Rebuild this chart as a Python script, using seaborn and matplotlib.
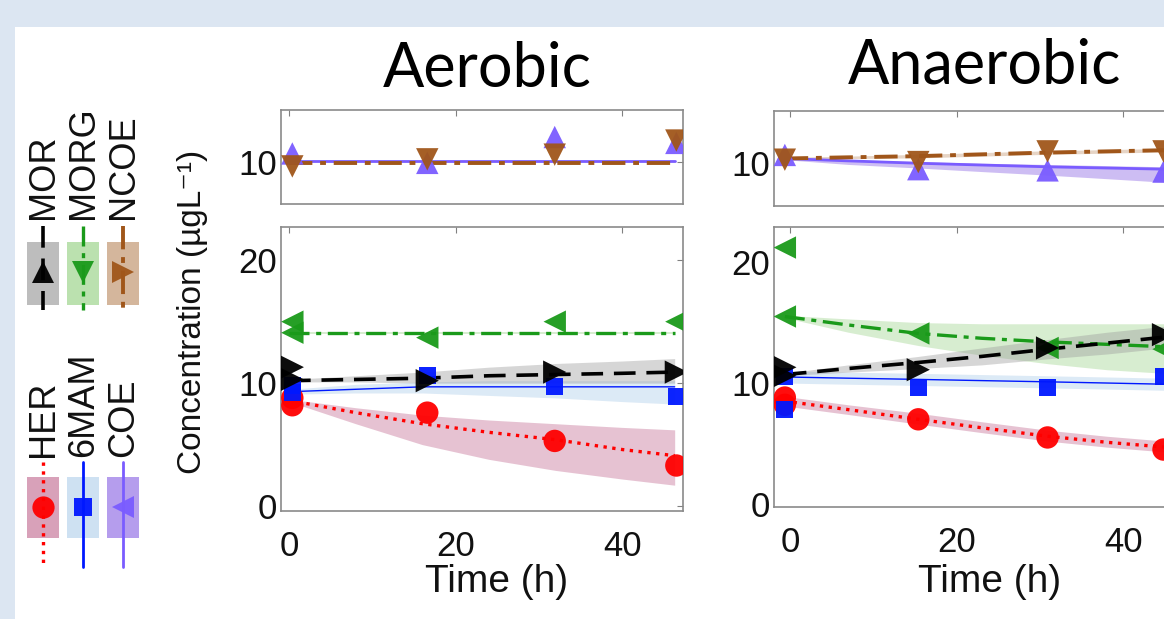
import numpy as np
import pandas as pd
import matplotlib
matplotlib.use("Agg")
import matplotlib.pyplot as plt
from matplotlib.patches import Rectangle
import seaborn as sns

# ---------------- data ----------------
# observation times (h)
T_OBS_AER = [0.4, 16.6, 31.9, 46.5]
T_OBS_ANA = [-0.6, 15.4, 30.9, 44.8]
# model curve time grid (h)
T_MOD_AER = [0, 8, 16, 24, 32, 40, 46.3]
T_MOD_ANA = [-0.6, 7, 15.4, 23, 30.9, 38, 45]

# --- Aerobic, lower panel ---
AER_HER_OBS = [[8.2, 8.8], [7.6], [5.3], [3.3]]
AER_HER_FIT = [8.6, 7.6, 6.7, 6.0, 5.4, 4.6, 4.1]
AER_HER_HI = [8.7, 8.0, 7.4, 7.0, 6.7, 6.4, 6.2]
AER_HER_LO = [8.5, 6.7, 5.0, 3.8, 2.9, 2.2, 1.7]

AER_6MAM_OBS = [[9.2, 9.8], [10.6], [9.7], [8.9]]
AER_6MAM_FIT = [9.3, 9.5, 9.7, 9.7, 9.7, 9.7, 9.7]
AER_6MAM_HI = [9.5, 9.9, 10.1, 10.2, 10.2, 10.2, 10.2]
AER_6MAM_LO = [9.1, 9.2, 9.2, 9.0, 8.8, 8.5, 8.3]

AER_MOR_OBS = [[11.3, 10.3], [10.2], [10.9], [10.9]]
AER_MOR_FIT = [10.2, 10.3, 10.4, 10.6, 10.7, 10.8, 10.9]
AER_MOR_HI = [10.3, 10.6, 10.9, 11.3, 11.6, 11.8, 12.0]
AER_MOR_LO = [10.1, 10.1, 10.0, 10.0, 10.0, 10.0, 10.0]

AER_MORG_OBS = [[15.0, 14.1], [13.7], [15.0], [15.0]]
AER_MORG_FIT = [14.1, 14.1, 14.1, 14.1, 14.1, 14.1, 14.1]
AER_MORG_HI = [14.2, 14.2, 14.2, 14.2, 14.2, 14.2, 14.2]
AER_MORG_LO = [14.0, 14.0, 14.0, 14.0, 14.0, 14.0, 14.0]

# --- Aerobic, upper panel ---
AER_COE_OBS = [[10.7], [9.9], [12.1], [11.6]]
AER_COE_FIT = [10.05] * 7
AER_NCOE_OBS = [[9.6], [10.2], [10.6], [11.8]]
AER_NCOE_FIT = [9.9] * 7

# --- Anaerobic, lower panel ---
ANA_HER_OBS = [[8.8, 8.2], [7.0], [5.5], [4.5]]
ANA_HER_FIT = [8.5, 7.8, 7.0, 6.3, 5.6, 5.1, 4.7]
ANA_HER_HI = [8.9, 8.2, 7.5, 6.8, 6.1, 5.6, 5.2]
ANA_HER_LO = [8.1, 7.4, 6.6, 5.9, 5.2, 4.7, 4.3]

ANA_6MAM_OBS = [[10.5, 7.8], [9.6], [9.6], [10.5]]
ANA_6MAM_FIT = [10.5, 10.4, 10.3, 10.2, 10.1, 10.0, 9.9]
ANA_6MAM_HI = [11.0, 10.9, 10.8, 10.7, 10.6, 10.5, 10.4]
ANA_6MAM_LO = [10.0, 9.9, 9.8, 9.7, 9.6, 9.5, 9.4]

ANA_MOR_OBS = [[11.3, 10.6], [11.1], [12.9], [14.0]]
ANA_MOR_FIT = [10.7, 11.2, 11.7, 12.2, 12.8, 13.3, 13.8]
ANA_MOR_HI = [10.8, 11.5, 12.2, 12.9, 13.6, 14.2, 14.7]
ANA_MOR_LO = [10.6, 10.9, 11.2, 11.5, 12.0, 12.4, 12.9]

ANA_MORG_OBS = [[21.2, 15.5], [14.1], [12.9], [12.8]]
ANA_MORG_FIT = [15.5, 14.8, 14.1, 13.7, 13.4, 13.2, 13.0]
ANA_MORG_HI = [15.6, 15.3, 15.0, 14.9, 14.9, 14.9, 14.9]
ANA_MORG_LO = [15.4, 14.2, 13.1, 12.3, 11.6, 11.1, 10.8]

# --- Anaerobic, upper panel ---
ANA_COE_OBS = [[10.7], [9.5], [9.4], [9.3]]
ANA_COE_FIT = [10.4, 10.2, 10.0, 9.85, 9.7, 9.6, 9.5]
ANA_COE_HI = [10.5, 10.3, 10.15, 10.0, 9.9, 9.8, 9.7]
ANA_COE_LO = [10.3, 9.9, 9.6, 9.3, 9.0, 8.7, 8.4]
ANA_NCOE_OBS = [[10.3], [10.1], [11.0], [11.0]]
ANA_NCOE_FIT = [10.4, 10.5, 10.6, 10.75, 10.9, 11.0, 11.1]
ANA_NCOE_HI = [10.5, 10.6, 10.75, 10.9, 11.05, 11.15, 11.25]
ANA_NCOE_LO = [10.3, 10.4, 10.45, 10.6, 10.75, 10.85, 10.95]

TITLES = ["Aerobic", "Anaerobic"]
X_TICKS = [0, 20, 40]
LEGEND_BOTTOM = ["HER", "6MAM", "COE"]
LEGEND_TOP = ["MOR", "MORG", "NCOE"]

# ---------------- styles ----------------
STY = {
    "HER":  dict(c="#ff0000", band="#c8799c", ls=":", lw=2.4, m="o", s=260, ba=0.45),
    "6MAM": dict(c="#0018ff", band="#c6dcf0", ls="-", lw=1.0, m="s", s=150, ba=0.6),
    "COE":  dict(c="#7a5cff", band="#9d7ce8", ls="-", lw=2.0, m="^", s=260, ba=0.5),
    "MOR":  dict(c="#000000", band="#9a9a9a", ls=(0, (6, 3)), lw=2.6, m=">", s=280, ba=0.4),
    "MORG": dict(c="#1a9a1a", band="#8fce7a", ls=(0, (6, 2, 1.5, 2)), lw=2.4, m="<", s=260, ba=0.35),
    "NCOE": dict(c="#a0561a", band="#b8865a", ls=(0, (6, 2, 1.5, 2)), lw=2.8, m="v", s=260, ba=0.35),
}

sns.set_theme(style="white")
plt.rcParams["font.family"] = ["Liberation Sans", "DejaVu Sans"]

W, H = 1164, 619
fig = plt.figure(figsize=(W / 100, H / 100), dpi=100, facecolor="#dce6f2")
fig.patches.append(Rectangle((15 / W, 0), 1 - 15 / W, 1 - 27 / H,
                             transform=fig.transFigure, facecolor="white",
                             edgecolor="none", zorder=-10))


def fpos(x0, y0, x1, y1):
    return [x0 / W, 1 - y1 / H, (x1 - x0) / W, (y1 - y0) / H]


def style_axes(ax, xlim, ylim, yticks, xlabels):
    ax.set_facecolor("white")
    ax.set_xlim(*xlim)
    ax.set_ylim(*ylim)
    ax.set_xticks(X_TICKS)
    ax.set_yticks(yticks)
    ax.set_yticklabels([str(v) for v in yticks])
    if xlabels:
        ax.set_xticklabels([str(v) for v in X_TICKS])
    else:
        ax.set_xticklabels([])
    ax.tick_params(direction="in", length=4, width=0.8, color="#808080",
                   labelsize=25, top=True, right=True, pad=3,
                   labelcolor="#111111")
    ax.tick_params(axis="x", pad=14)
    for sp in ax.spines.values():
        sp.set_color("#8a8a8a")
        sp.set_linewidth(1.2)
        sp.set_visible(True)
    ax.set_xlabel("")
    ax.set_ylabel("")


def draw_series(ax, name, t_obs, obs, t_mod, fit, hi=None, lo=None):
    st = STY[name]
    if hi is not None:
        ax.fill_between(t_mod, lo, hi, color=st["band"], alpha=st["ba"],
                        linewidth=0, zorder=1)
    sns.lineplot(x=t_mod, y=fit, ax=ax, color=st["c"], linestyle=st["ls"],
                 linewidth=st["lw"], zorder=3, legend=False)
    xs, ys = [], []
    for t, vals in zip(t_obs, obs):
        for v in vals:
            xs.append(t)
            ys.append(v)
    df = pd.DataFrame({"t": xs, "v": ys})
    sns.scatterplot(data=df, x="t", y="v", ax=ax, marker=st["m"], s=st["s"],
                    color=st["c"], edgecolor="none", linewidth=0, zorder=4,
                    alpha=0.95, legend=False)


# ---------------- Aerobic ----------------
ax_at = fig.add_axes(fpos(281, 110, 683, 204))
ax_ab = fig.add_axes(fpos(281, 227, 683, 511))
# ---------------- Anaerobic ----------------
ax_nt = fig.add_axes(fpos(774, 111, 1176, 206))
ax_nb = fig.add_axes(fpos(774, 227, 1176, 507))

# Aerobic lower
draw_series(ax_ab, "HER", T_OBS_AER, AER_HER_OBS, T_MOD_AER, AER_HER_FIT, AER_HER_HI, AER_HER_LO)
draw_series(ax_ab, "6MAM", T_OBS_AER, AER_6MAM_OBS, T_MOD_AER, AER_6MAM_FIT, AER_6MAM_HI, AER_6MAM_LO)
draw_series(ax_ab, "MOR", T_OBS_AER, AER_MOR_OBS, T_MOD_AER, AER_MOR_FIT, AER_MOR_HI, AER_MOR_LO)
draw_series(ax_ab, "MORG", T_OBS_AER, AER_MORG_OBS, T_MOD_AER, AER_MORG_FIT, AER_MORG_HI, AER_MORG_LO)
# Aerobic upper
draw_series(ax_at, "COE", T_OBS_AER, AER_COE_OBS, T_MOD_AER, AER_COE_FIT)
draw_series(ax_at, "NCOE", T_OBS_AER, AER_NCOE_OBS, T_MOD_AER, AER_NCOE_FIT)

# Anaerobic lower
draw_series(ax_nb, "HER", T_OBS_ANA, ANA_HER_OBS, T_MOD_ANA, ANA_HER_FIT, ANA_HER_HI, ANA_HER_LO)
draw_series(ax_nb, "6MAM", T_OBS_ANA, ANA_6MAM_OBS, T_MOD_ANA, ANA_6MAM_FIT, ANA_6MAM_HI, ANA_6MAM_LO)
draw_series(ax_nb, "MORG", T_OBS_ANA, ANA_MORG_OBS, T_MOD_ANA, ANA_MORG_FIT, ANA_MORG_HI, ANA_MORG_LO)
draw_series(ax_nb, "MOR", T_OBS_ANA, ANA_MOR_OBS, T_MOD_ANA, ANA_MOR_FIT, ANA_MOR_HI, ANA_MOR_LO)
# Anaerobic upper
draw_series(ax_nt, "COE", T_OBS_ANA, ANA_COE_OBS, T_MOD_ANA, ANA_COE_FIT, ANA_COE_HI, ANA_COE_LO)
draw_series(ax_nt, "NCOE", T_OBS_ANA, ANA_NCOE_OBS, T_MOD_ANA, ANA_NCOE_FIT, ANA_NCOE_HI, ANA_NCOE_LO)

style_axes(ax_at, (-0.96, 47.3), (6.4, 14.4), [10], False)
style_axes(ax_ab, (-0.96, 47.3), (-0.4, 22.7), [0, 10, 20], True)
style_axes(ax_nt, (-1.9, 46.3), (6.4, 14.4), [10], False)
style_axes(ax_nb, (-1.9, 46.3), (-0.25, 22.9), [0, 10, 20], True)
for ax in (ax_ab, ax_nb):
    ax.set_xlabel("Time (h)", fontsize=28, color="#111111")
for ax, ybot in ((ax_ab, 511), (ax_nb, 507)):
    # label centre ~585 px from top
    ax.xaxis.set_label_coords(0.535, -(600 - ybot) / (ybot - 227))
    ax.xaxis.label.set_va("bottom")

# titles
fig.text(487 / W, 1 - 87 / H, TITLES[0], fontsize=44, family="Lato",
         ha="center", va="baseline", color="black")
fig.text(985 / W, 1 - 83 / H, TITLES[1], fontsize=44, family="Lato",
         ha="center", va="baseline", color="black")
# y label
fig.text(193 / W, 1 - 312 / H, "Concentration (µgL⁻¹)", rotation=90,
         fontsize=24, ha="center", va="center", color="#111111")

# ---------------- rotated legend (drawn in pixel space) ----------------
lg = fig.add_axes([0, 0, 1, 1], facecolor="none")
lg.set_xlim(0, W)
lg.set_ylim(H, 0)
lg.axis("off")
LEG_MARK = {"HER": "o", "6MAM": "s", "COE": "<", "MOR": "^", "MORG": "v", "NCOE": ">"}
cols_x = [43, 83, 123]
for names, (ly0, ly1, py0, py1, my, ty) in ((LEGEND_BOTTOM, (462, 567, 477, 538, 507, 457)),
                                            (LEGEND_TOP, (226, 310, 242, 305, 272, 219))):
    for x, nm in zip(cols_x, names):
        st = STY[nm]
        lg.add_patch(Rectangle((x - 16, py0), 32, py1 - py0, facecolor=st["band"],
                               alpha=min(1, st["ba"] + 0.25), edgecolor="none"))
        lg.plot([x, x], [ly0, ly1], color=st["c"], linestyle=st["ls"],
                linewidth=st["lw"] if nm != "6MAM" else 2.0)
        lg.plot([x], [my], marker=LEG_MARK[nm], color=st["c"],
                markersize=16 if nm != "6MAM" else 13, markeredgewidth=0,
                alpha=0.95)
        lg.text(x + 1, ty, nm, rotation=90, fontsize=26, ha="center",
                va="bottom", color="#111111")

fig.savefig("out.png", dpi=100, facecolor=fig.get_facecolor())
